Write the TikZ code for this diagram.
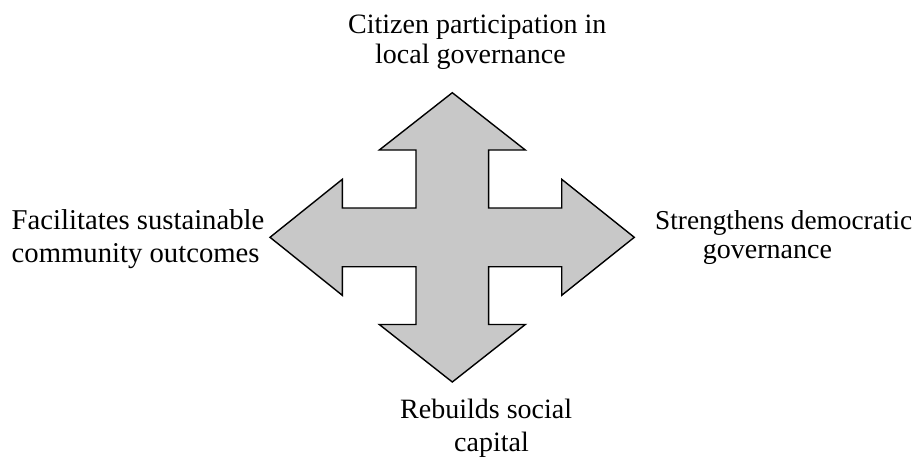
\documentclass[tikz,border=0pt]{standalone}
\usepackage{fontspec}
\setmainfont{Liberation Serif}
\begin{document}
\begin{tikzpicture}[x=1pt,y=-1pt,
  crossarrow/.style={draw=black, fill={rgb,255:red,200;green,200;blue,200}, line width=1.4pt, line join=miter},
  label/.style={font=\fontsize{28}{32}\selectfont, inner sep=0pt, anchor=base west},
  widelabel/.style={label, font=\fontsize{28.7}{32}\selectfont},
  narrowlabel/.style={label, font=\fontsize{27.3}{32}\selectfont}]
\useasboundingbox (0,0) rectangle (920,456);
% four-way arrow
\draw[crossarrow]
  (416,208) -- (416,150) -- (379.3,150) -- (452.3,92.7) -- (525.3,150) -- (488.6,150) -- (488.6,208)
  -- (561.7,208) -- (561.7,179.3) -- (634.3,237.3) -- (561.7,295.3) -- (561.7,266.7) -- (488.6,266.7)
  -- (488.6,324.5) -- (525.3,324.5) -- (452.3,382) -- (379.3,324.5) -- (416,324.5) -- (416,266.7)
  -- (342.3,266.7) -- (342.3,295.3) -- (270,237.3) -- (342.3,179.3) -- (342.3,208) -- cycle;
% labels, one node per printed line
\node[label] (top1) at (348,33.3) {Citizen participation in};
\node[label] (top2) at (375,63.3) {local governance};
\node[widelabel] (left1) at (11.5,229.3) {Facilitates sustainable};
\node[widelabel] (left2) at (11.5,262.3) {community outcomes};
\node[narrowlabel] (right1) at (655,229.3) {Strengthens democratic};
\node[label] (right2) at (702.7,258.3) {governance};
\node[label] (bottom1) at (400,418) {Rebuilds social};
\node[label] (bottom2) at (454,451) {capital};
\end{tikzpicture}
\end{document}
